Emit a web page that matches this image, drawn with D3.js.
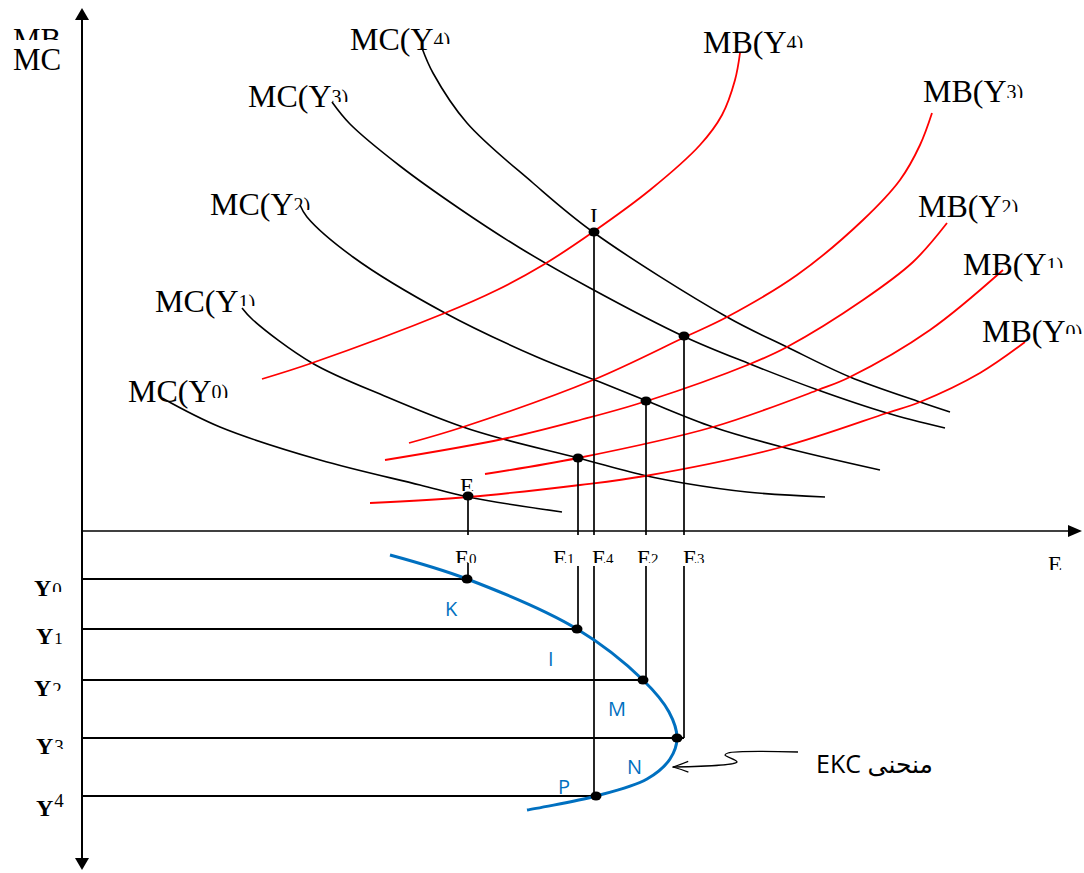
<!DOCTYPE html>
<html><head><meta charset="utf-8">
<script src="https://cdnjs.cloudflare.com/ajax/libs/d3/7.8.5/d3.min.js"></script>
<style>body{margin:0;background:#fff}svg{display:block}</style>
</head><body>
<svg id="c" width="1084" height="873"></svg>
<script>
// ---------- DATA (x = emissions E, up = MB/MC, down = income Y) ----------
const MC_Y0 = [[80,133],[138,104],[238,71],[338,46],[386,34],[480,19]];
const MC_Y1 = [[160,223],[171,211],[230,168],[305,134],[381,104],[421,92],[496,73],[565,55],[601,48],[665,39],[743,34]];
const MC_Y2 = [[218,326],[225,314],[271,274],[363,218],[455,174],[518,149],[565,130],[631,104],[700,84],[798,61]];
const MC_Y3 = [[250,429],[268,407],[318,365],[378,322],[438,283],[508,243],[603,194],[668,167],[736,141],[805,118],[863,103]];
const MC_Y4 = [[340,483],[351,458],[385,408],[451,348],[511,299],[645,214],[705,184],[768,154],[838,129],[868,119]];
const MB_Y0 = [[288,28],[386,34],[498,46],[563,55],[700,84],[805,118],[838,129],[898,158],[943,189]];
const MB_Y1 = [[403,57],[496,73],[631,104],[736,141],[768,154],[848,201],[921,261]];
const MB_Y2 = [[303,71],[421,92],[498,111],[565,130],[668,167],[705,184],[781,231],[831,269],[865,308]];
const MB_Y3 = [[327,88],[381,104],[511,151],[603,194],[645,214],[715,256],[781,311],[818,351],[838,386],[850,418]];
const MB_Y4 = [[180,152],[230,168],[363,218],[415,241],[461,266],[511,299],[568,341],[618,386],[640,416],[653,451],[658,478]];

const EQ_IDX = ["0","1","2","3","4"];
const EQ_E   = [386, 496, 564, 602, 512];   // equilibrium emissions E0..E4
const EQ_MB  = [35, 73, 130, 195, 299];     // MB = MC at equilibrium
const Y_LEVEL = [48, 98, 149, 207, 265];    // income levels Y0..Y4 (downwards)
const EKC_E   = [385, 495, 561, 595, 514];  // EKC points at each income level
const EKC = [[308,24],[385,48],[495,98],[561,149],[587,181],[595,207],[588,228],[565,248],[514,265],[445,279]];
const EKC_REGIONS = ["K","I","M","N","P"];
const ARROW = [[716,221],[646,222],[643,224],[655,231],[591,236]];

// ---------- SCALES ----------
const x  = d3.scaleLinear().domain([0,1000]).range([82,1082]);
const yU = d3.scaleLinear().domain([0,520]).range([531,11]);
const yL = d3.scaleLinear().domain([0,340]).range([531,871]);

const svg = d3.select("#c");
const defs = svg.append("defs");
const SERIF = "'Liberation Serif','Times New Roman',serif";
const SANS = "'Open Sans','DejaVu Sans',sans-serif";

// ---------- AXES ----------
svg.append("line").attr("x1",x(0)).attr("x2",x(0)).attr("y1",yU(514)).attr("y2",yL(330))
  .attr("stroke","#000").attr("stroke-width",2);
svg.append("line").attr("x1",x(0)).attr("x2",x(990)).attr("y1",yU(0)).attr("y2",yU(0))
  .attr("stroke","#000").attr("stroke-width",1.5);
function tri(pts){ svg.append("path").attr("d","M"+pts.map(p=>p.join(",")).join("L")+"Z").attr("fill","#000"); }
tri([[x(0),yU(523)],[x(0)-7,yU(511)],[x(0)+7,yU(511)]]);
tri([[x(0),yL(339)],[x(0)-7,yL(327)],[x(0)+7,yL(327)]]);
tri([[x(1000),yU(0)],[x(986),yU(0)-6],[x(986),yU(0)+6]]);

// ---------- CURVES ----------
const lineU = d3.line().x(d=>x(d[0])).y(d=>yU(d[1])).curve(d3.curveCatmullRom.alpha(0.5));
const lineL = d3.line().x(d=>x(d[0])).y(d=>yL(d[1])).curve(d3.curveCatmullRom.alpha(0.5));
[MC_Y0,MC_Y1,MC_Y2,MC_Y3,MC_Y4].forEach(c=>svg.append("path").attr("d",lineU(c))
  .attr("fill","none").attr("stroke","#000").attr("stroke-width",1.6));
[MB_Y0,MB_Y1,MB_Y2,MB_Y3,MB_Y4].forEach(c=>svg.append("path").attr("d",lineU(c))
  .attr("fill","none").attr("stroke","#ff0000").attr("stroke-width",1.8));

// vertical drop lines upper panel
EQ_E.forEach((e,i)=>{
  svg.append("line").attr("x1",x(e)).attr("x2",x(e)).attr("y1",yU(EQ_MB[i])).attr("y2",yU(-4))
    .attr("stroke","#000").attr("stroke-width",1.7);
});
// lower panel vertical + horizontal lines
EQ_E.forEach((e,i)=>{
  svg.append("line").attr("x1",x(e)).attr("x2",x(e)).attr("y1",yL(i===0?32:35)).attr("y2",yL(Y_LEVEL[i]))
    .attr("stroke","#000").attr("stroke-width",1.7);
  svg.append("line").attr("x1",x(0)).attr("x2",x(Math.max(e,EKC_E[i]))).attr("y1",yL(Y_LEVEL[i])).attr("y2",yL(Y_LEVEL[i]))
    .attr("stroke","#000").attr("stroke-width",1.8);
});
// EKC curve
svg.append("path").attr("d",lineL(EKC)).attr("fill","none").attr("stroke","#0070c0").attr("stroke-width",3);

// dots
EQ_E.forEach((e,i)=>svg.append("ellipse").attr("cx",x(e)).attr("cy",yU(EQ_MB[i])).attr("rx",5.5).attr("ry",4.5).attr("fill","#000"));
EKC_E.forEach((e,i)=>svg.append("ellipse").attr("cx",x(e)).attr("cy",yL(Y_LEVEL[i])).attr("rx",5.5).attr("ry",4.5).attr("fill","#000"));

// arrow to EKC
defs.append("marker").attr("id","ah").attr("viewBox","0 0 20 20").attr("refX",19).attr("refY",10)
  .attr("markerWidth",18).attr("markerHeight",18).attr("markerUnits","userSpaceOnUse").attr("orient","auto")
  .append("path").attr("d","M2,4 Q12,8 19,10 Q12,12 2,16").attr("fill","none").attr("stroke","#000").attr("stroke-width",1.4);
svg.append("path").attr("d",d3.line().x(d=>x(d[0])).y(d=>yL(d[1])).curve(d3.curveCatmullRom.alpha(0.5))(ARROW))
  .attr("fill","none").attr("stroke","#000").attr("stroke-width",1.3).attr("marker-end","url(#ah)");

// ---------- LABELS ----------
let clipN = 0;
function clip(yMax){
  const id = "cl"+(clipN++);
  defs.append("clipPath").attr("id",id).append("rect").attr("x",0).attr("y",0).attr("width",1084).attr("height",yMax);
  return "url(#"+id+")";
}
function lbl(o){
  const t = svg.append("text").attr("x",o.x).attr("y",o.y).attr("font-family",o.family||SERIF)
    .attr("font-size",o.size).attr("font-weight",o.weight||"normal").attr("fill",o.color||"#000").text(o.main);
  if (o.clipAll!=null) t.attr("clip-path",clip(o.clipAll));
  if (o.tail){
    const w = t.node().getComputedTextLength();
    const tt = svg.append("text").attr("x",o.x+w+(o.gap||0)).attr("y",o.y+(o.tailDy||0)).attr("font-family",SERIF)
      .attr("font-size",o.tailSize).text(o.tail);
    const c = o.clipAll!=null ? o.clipAll : o.clipTail;
    if (c!=null) tt.attr("clip-path",clip(c));
  }
}
// axis title
lbl({x:13,y:50,main:"MB",size:31,clipAll:40});
lbl({x:13,y:70,main:"MC",size:31});

const MC_LAB = [[128,402,398],[155,312,306],[210,215,210],[248,107,102],[350,50,44]];
const MB_LAB = [[982,342,334],[963,275,268],[918,217,212],[923,102,98],[703,53,48]];
EQ_IDX.forEach((k,i)=>{
  lbl({x:MC_LAB[i][0],y:MC_LAB[i][1],main:"MC(Y",size:32,tail:k+")",tailSize:20,tailDy:-3,clipTail:MC_LAB[i][2]});
  lbl({x:MB_LAB[i][0],y:MB_LAB[i][1],main:"MB(Y",size:32,tail:k+")",tailSize:20,tailDy:-3,clipTail:MB_LAB[i][2]});
});

// E labels on the axis
const E_LAB_X = [455,553,637,683,592];
EQ_IDX.forEach((k,i)=>lbl({x:E_LAB_X[i],y:566,main:"E",size:23,tail:k,tailSize:15,tailDy:-2,clipAll:563}));
lbl({x:1048,y:572,main:"E",size:23,clipAll:570});
lbl({x:460,y:494,main:"E",size:23,clipAll:491});
lbl({x:590,y:224,main:"I",size:23,clipAll:222});

// Y labels
const Y_LAB = [[34,596,0,592,19],[36,644,0,null,17],[34,696,0,691,19],[36,754,-1,749,19],[36,816,-9,null,19]];
EQ_IDX.forEach((k,i)=>lbl({x:Y_LAB[i][0],y:Y_LAB[i][1],main:"Y",size:24,weight:"bold",tail:k,tailSize:Y_LAB[i][4],gap:1,
  tailDy:Y_LAB[i][2],clipTail:Y_LAB[i][3]}));

// EKC region letters
const REG_POS = [[445,616],[548,666],[608,716],[627,774],[558,794]];
EKC_REGIONS.forEach((r,i)=>svg.append("text").attr("x",REG_POS[i][0]).attr("y",REG_POS[i][1])
  .attr("font-family",SANS).attr("font-size",20).attr("fill","#0070c0").text(r));

// EKC caption (Persian)
svg.append("text").attr("x",933).attr("y",773).attr("direction","rtl").attr("text-anchor","start")
  .attr("font-family",SANS).attr("font-size",25).attr("fill","#000").text("منحنی EKC");
</script>
</body></html>
